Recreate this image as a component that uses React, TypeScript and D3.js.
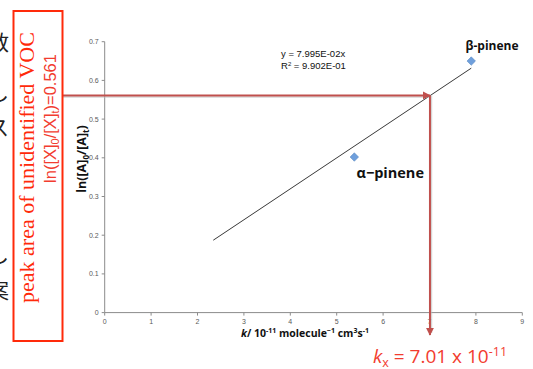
import React from "react";
import * as d3 from "d3";

const species = ["α−pinene", "β-pinene"];
const kValues = [5.38, 7.9];
const lnValues = [0.402, 0.65];
const slope = 0.07995;
const rSquared = "9.902E-01";
const trendRange = [2.34, 7.9];
const xTicks = [0, 1, 2, 3, 4, 5, 6, 7, 8, 9];
const yTicks = [0, 0.1, 0.2, 0.3, 0.4, 0.5, 0.6, 0.7];
const unknownLn = 0.561;
const unknownK = 7.01;
const jpFragments = [
  { ch: "数", y: 50 },
  { ch: "し", y: 100 },
  { ch: "ス", y: 135 },
  { ch: "）", y: 225 },
  { ch: "し", y: 262 },
  { ch: "案", y: 298 },
  { ch: "）", y: 342 },
];

export default function App() {
  const W = 533, H = 369;
  const x = d3.scaleLinear().domain([0, 9]).range([104.7, 522.3]);
  const y = d3.scaleLinear().domain([0, 0.7]).range([312.6, 41.7]);
  const lineRed = "#c0504d";
  const textRed = "#f23c2f";
  const boxRed = "#ff2a0a";
  const tickCol = "#5a5a5a";
  const axisCol = "#8c8c8c";
  const hy = y(unknownLn);
  const vx = x(unknownK);
  const trend = d3.line<number>().x((d) => x(d)).y((d) => y(d * slope));
  const sans = "'Liberation Sans', Arial, sans-serif";
  const calib = "'Open Sans', 'Liberation Sans', sans-serif";
  return (
    <svg width={W} height={H} style={{ position: "absolute", left: 0, top: 0, background: "#fff" }}>
      <defs>
        <marker id="arr" viewBox="0 0 10 10" refX="9" refY="5" markerWidth="4" markerHeight="4" orient="auto">
          <path d="M0,0 L10,5 L0,10 z" fill={lineRed} />
        </marker>
      </defs>
      {jpFragments.map((f, i) => (
        <text key={i} x={9} y={f.y} textAnchor="end" fontSize={21} fontFamily="'Noto Sans CJK JP'" fill="#222">
          {f.ch}
        </text>
      ))}
      <line x1={x(0)} x2={x(9)} y1={y(0)} y2={y(0)} stroke={axisCol} strokeWidth={1} />
      <line x1={x(0)} x2={x(0)} y1={y(0)} y2={y(0.7)} stroke={axisCol} strokeWidth={1} />
      {xTicks.map((t) => (
        <g key={"xt" + t}>
          <line x1={x(t)} x2={x(t)} y1={y(0)} y2={y(0) + 3} stroke={axisCol} />
          <text x={x(t)} y={y(0) + 11} fontSize={7} textAnchor="middle" fill={tickCol} fontFamily={sans}>
            {t}
          </text>
        </g>
      ))}
      {yTicks.map((t) => (
        <g key={"yt" + t}>
          <line x1={x(0) - 3} x2={x(0)} y1={y(t)} y2={y(t)} stroke={axisCol} />
          <text x={x(0) - 6} y={y(t) + 2.5} fontSize={7} textAnchor="end" fill={tickCol} fontFamily={sans}>
            {t === 0 ? "0" : t.toFixed(1)}
          </text>
        </g>
      ))}
      <path d={trend(trendRange) || ""} stroke="#222" strokeWidth={0.9} fill="none" />
      {kValues.map((k, i) => (
        <rect
          key={"p" + i}
          x={x(k) - 3}
          y={y(lnValues[i]) - 3}
          width={6}
          height={6}
          transform={`rotate(45 ${x(k)} ${y(lnValues[i])})`}
          fill="#6f9fdc"
          stroke="#4f81bd"
          strokeWidth={0.5}
        />
      ))}
      <text x={465.5} y={50} fontSize={12} fontWeight="bold" fontFamily={calib} fill="#111">
        {species[1]}
      </text>
      <text x={356.5} y={178} fontSize={14.5} fontWeight="bold" fontFamily={calib} fill="#111">
        {species[0]}
      </text>
      <text x={281} y={57} fontSize={9.5} fontFamily={sans} fill="#111">
        {`y = ${slope.toExponential(3).replace("e-", "E-0")}x`}
      </text>
      <text x={281} y={68.5} fontSize={9.5} fontFamily={sans} fill="#111">
        R<tspan dy={-3} fontSize={6}>2</tspan>
        <tspan dy={3}>{` = ${rSquared}`}</tspan>
      </text>
      <text x={241} y={337} fontSize={10.5} fontWeight="bold" fontFamily={calib} fill="#111">
        <tspan fontStyle="italic">k</tspan>/ 10<tspan dy={-4} fontSize={7}>-11</tspan>
        <tspan dy={4}> molecule</tspan>
        <tspan dy={-4} fontSize={7}>−1</tspan>
        <tspan dy={4}> cm</tspan>
        <tspan dy={-4} fontSize={7}>3</tspan>
        <tspan dy={4}>s</tspan>
        <tspan dy={-4} fontSize={7}>-1</tspan>
      </text>
      <text
        transform={`translate(86,159) rotate(-90)`}
        textAnchor="middle"
        fontSize={12.5}
        fontWeight="bold"
        fontFamily={calib}
        fill="#111"
      >
        ln([A]<tspan dy={3} fontSize={8}>0</tspan>
        <tspan dy={-3}>/[A]</tspan>
        <tspan dy={3} fontSize={8}>t</tspan>
        <tspan dy={-3}>)</tspan>
      </text>
      <line x1={63} x2={vx - 1} y1={hy + 1.5} y2={hy + 1.5} stroke="#bbb" strokeWidth={1.5} opacity={0.6} />
      <line x1={vx + 1.5} x2={vx + 1.5} y1={hy} y2={333} stroke="#bbb" strokeWidth={1.5} opacity={0.6} />
      <line x1={63} x2={vx} y1={hy} y2={hy} stroke={lineRed} strokeWidth={2} markerEnd="url(#arr)" />
      <line x1={vx} x2={vx} y1={hy} y2={335} stroke={lineRed} strokeWidth={2} markerEnd="url(#arr)" />
      <rect x={13.5} y={11} width={49} height={330} fill="#fff" stroke={boxRed} strokeWidth={2} />
      <text
        transform={`translate(34,167.5) rotate(-90)`}
        textAnchor="middle"
        fontSize={22}
        fontFamily="'Liberation Serif', serif"
        fill={boxRed}
      >
        peak area of unidentified VOC
      </text>
      <text
        transform={`translate(55.5,118.5) rotate(-90)`}
        textAnchor="middle"
        fontSize={16.5}
        fontFamily={sans}
        fill={textRed}
      >
        ln([X]<tspan dy={3} fontSize={11}>0</tspan>
        <tspan dy={-3}>/[X]</tspan>
        <tspan dy={3} fontSize={11}>t</tspan>
        <tspan dy={-3}>{`)=${unknownLn}`}</tspan>
      </text>
      <text x={373} y={363} fontSize={19} fontFamily={calib} fill={textRed}>
        <tspan fontStyle="italic">k</tspan>
        <tspan dy={4} fontSize={12.5}>x</tspan>
        <tspan dy={-4}>{` = ${unknownK} x 10`}</tspan>
        <tspan dy={-7} fontSize={12.5}>-11</tspan>
      </text>
    </svg>
  );
}
